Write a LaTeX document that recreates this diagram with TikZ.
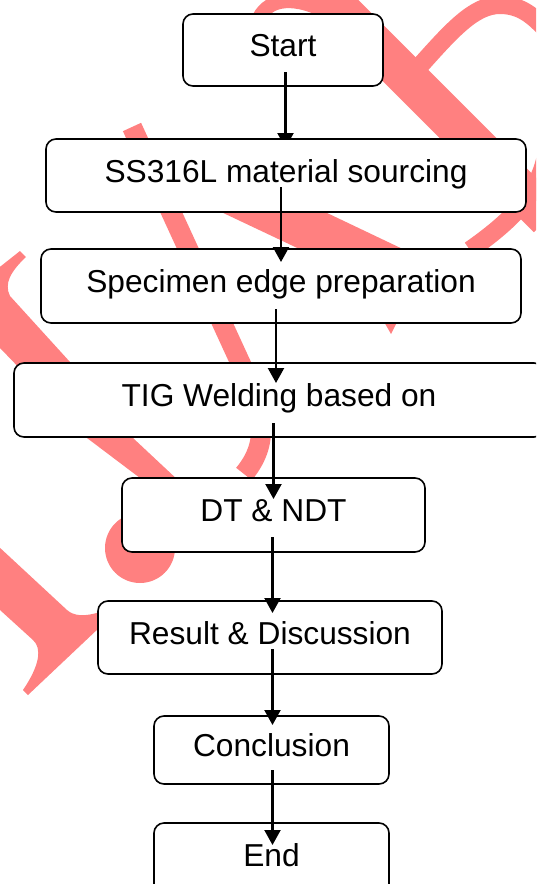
\documentclass[tikz,border=0pt]{standalone}
\usepackage{fontspec}
\setmainfont{Liberation Sans}
\usetikzlibrary{arrows.meta}
\definecolor{wmred}{RGB}{255,128,128}
\begin{document}
\begin{tikzpicture}[x=1pt,y=-1pt,
  box/.style={draw=black, line width=1.6pt, fill=white, rounded corners=10pt,
    inner sep=0pt, outer sep=0pt, font=\fontsize{31.7pt}{38pt}\selectfont,
    text height=24pt, text depth=11pt},
  arr/.style={line width=2.1pt, -{Triangle[width=16pt,length=15pt]}},
  wmband/.style={wmred}]
\useasboundingbox (0,0) rectangle (536,884);
\clip (0,0) rectangle (536,884);
\fill[white] (0,0) rectangle (536,884);
% watermark
\draw[wmband, line width=40pt] (318,-12) -- (548,218);
\draw[wmband, line width=14pt] (256,26) .. controls (262,2) and (285,-6) .. (318,8);
\draw[wmband, line width=18pt] (418,68) .. controls (452,30) and (474,5) .. (500,5) .. controls (520,5) and (533,15) .. (548,32);
\draw[wmband, line width=18pt] (548,140) .. controls (545,185) and (520,215) .. (470,250);
\draw[wmband, line width=20pt] (132,127) -- (240,362) .. controls (262,408) and (272,440) .. (244,474);
\fill[wmband] (200,202) -- (304,202) -- (430,262) -- (398,320) -- (391,334) -- (383,320) -- (310,254) -- cycle;
\fill[wmband] (-4,270) -- (20,251) -- (26,257) .. controls (10,272) and (4,284) .. (10,296) -- (70,362) -- (133,438) -- (180,482) -- (180,510) -- (140,478) -- (87,438) -- (0,348) -- (-4,348) -- cycle;
\fill[wmband] (140,548) circle (35pt);
\fill[wmband] (-2,546) -- (67,610) .. controls (74,616) and (84,617) .. (100,612) -- (100,627) -- (28,695) -- (23,690) .. controls (40,665) and (42,648) .. (33,640) -- (0,610) -- (-2,610) -- cycle;
% flow
\node[box, minimum width=200pt, minimum height=72pt] (start) at (283,50) {Start};
\coordinate (a1tip) at (285.5,148);
\draw[arr] ([shift={(2.5,-14)}]start.south) -- (a1tip);
\node[box, minimum width=480pt, minimum height=73pt] (ss) at (286,175.5) {SS316L material sourcing};
\node[box, minimum width=480pt, minimum height=74pt] (spec) at (281,286) {Specimen edge preparation};
\node[box, minimum width=530pt, minimum height=74pt] (tig) at (279,400) {TIG Welding based on};
\node[box, minimum width=303pt, minimum height=74pt] (dt) at (273.5,515) {DT \& NDT};
\node[box, minimum width=344pt, minimum height=73pt] (res) at (270,637.5) {Result \& Discussion};
\node[box, minimum width=235pt, minimum height=68pt] (con) at (271.5,750) {Conclusion};
\node[box, minimum width=235pt, minimum height=74pt] (endn) at (271.5,860) {End};
\draw[arr] ([shift={(-5,-25)}]ss.south) -- ([shift={(0,13)}]spec.north);
\draw[arr] ([shift={(-5,-14)}]spec.south) -- ([shift={(-3,20)}]tig.north);
\draw[arr] ([shift={(-5.5,-14)}]tig.south) -- ([shift={(0,21)}]dt.north);
\draw[arr] ([shift={(-1,-15)}]dt.south) -- ([shift={(2.5,12)}]res.north);
\draw[arr] ([shift={(2.5,-25)}]res.south) -- ([shift={(1,9)}]con.north);
\draw[arr] ([shift={(1,-14)}]con.south) -- ([shift={(1,22)}]endn.north);
\end{tikzpicture}
\end{document}
